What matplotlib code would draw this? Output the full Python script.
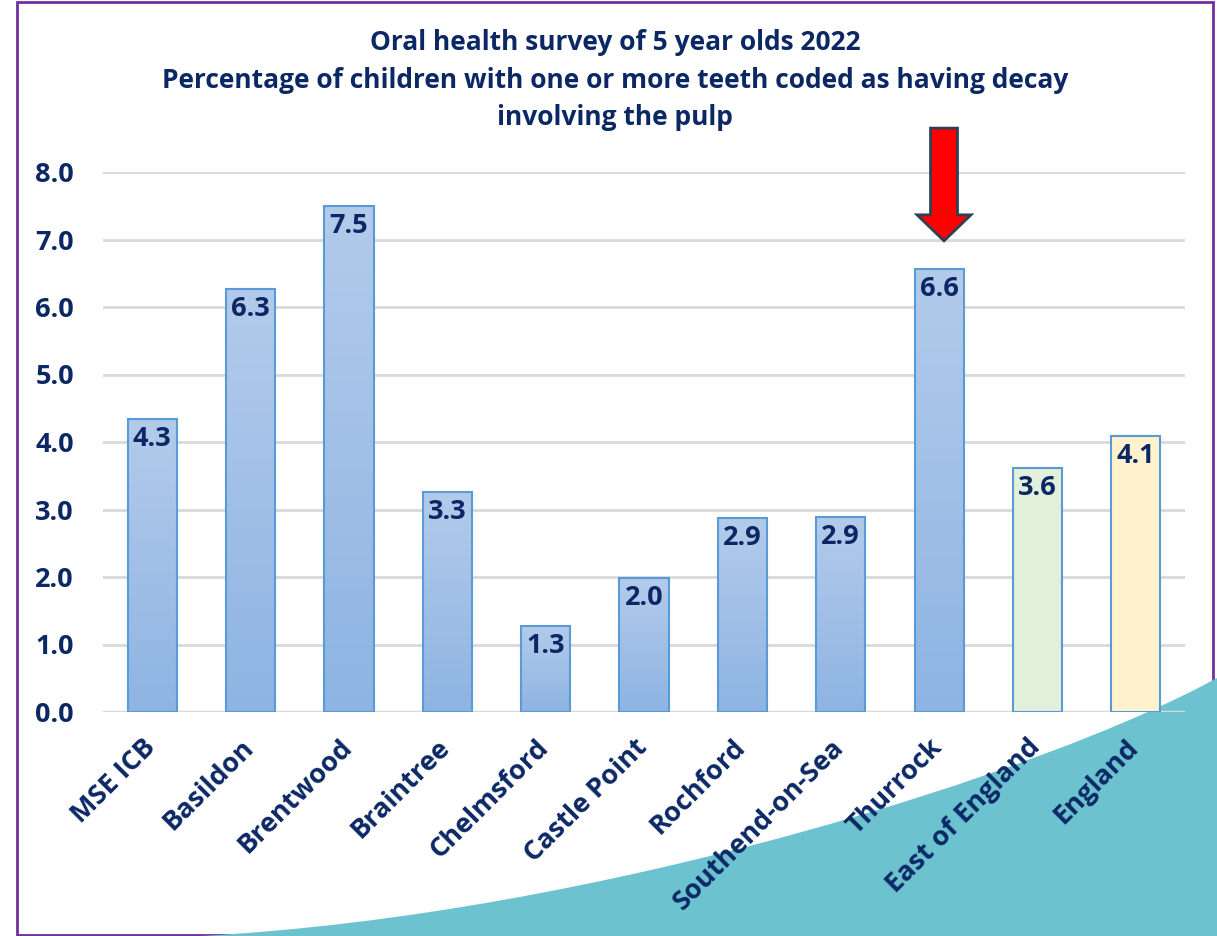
import numpy as np
import matplotlib
matplotlib.use('Agg')
import matplotlib.pyplot as plt
import matplotlib.transforms as mtransforms
from matplotlib.patches import Rectangle, PathPatch, Polygon
from matplotlib.path import Path

plt.rcParams['font.family'] = ['Open Sans', 'DejaVu Sans']

# Survey data (% of 5 year olds with decay involving the pulp)
areas = ['MSE ICB', 'Basildon', 'Brentwood', 'Braintree', 'Chelmsford',
         'Castle Point', 'Rochford', 'Southend-on-Sea', 'Thurrock',
         'East of England', 'England']
pct = [4.34, 6.27, 7.50, 3.26, 1.28, 1.99, 2.88, 2.89, 6.56, 3.61, 4.09]
highlight = 'Thurrock'

navy = '#0B2865'
edge = '#5B9BD5'
grid_col = '#D9D9D9'

W, H = 1217, 936
fig = plt.figure(figsize=(W / 100, H / 100), dpi=100)

# outer frame
fig.patches.append(Rectangle((17 / W, 1 - 935 / H), (1213 - 17) / W, (935 - 2) / H,
                             transform=fig.transFigure, fill=False,
                             edgecolor='#7030A0', linewidth=2, zorder=0))

# teal swoosh in the bottom right corner
def fx(x):
    return x / W

def fy(y):
    return 1 - y / H

verts = [(fx(200), fy(936)), (fx(600), fy(915)), (fx(1050), fy(770)), (fx(1217), fy(678)),
         (fx(1217), fy(936)), (fx(200), fy(936))]
codes = [Path.MOVETO, Path.CURVE4, Path.CURVE4, Path.CURVE4, Path.LINETO, Path.CLOSEPOLY]
fig.patches.append(PathPatch(Path(verts, codes), transform=fig.transFigure,
                             facecolor='#6CC3CF', edgecolor='none', zorder=1))

ax = fig.add_axes([103 / W, 1 - 712 / H, (1185 - 103) / W, (712 - 172) / H])
ax.set_facecolor('none')
ax.set_zorder(2)

x = np.arange(len(areas))
fills = ['#A6C3E8'] * 9 + ['#E2EFDA', '#FFF2CC']
bars = ax.bar(x, pct, width=0.5, color=fills, edgecolor=edge, linewidth=1.5, zorder=3)

# vertical gradient on the local area bars
grad = np.linspace(0, 1, 256).reshape(-1, 1)
cmap = matplotlib.colors.LinearSegmentedColormap.from_list('blu', ['#B3CBEB', '#8EB4E3'])
for b, name in zip(bars, areas):
    if name in ('East of England', 'England'):
        continue
    x0 = b.get_x()
    im = ax.imshow(grad, extent=[x0, x0 + b.get_width(), 0, b.get_height()],
                   origin='lower', cmap=cmap.reversed(), aspect='auto', zorder=3.5)
    im.set_clip_path(b)
    b.set_facecolor('none')
    b.set_zorder(4)

for xi, v in zip(x, pct):
    ax.annotate(f'{v:.1f}', (xi, v), xytext=(0, -5), textcoords='offset points',
                ha='center', va='top', fontsize=19.5, fontweight='bold', color=navy, zorder=5)

ax.set_xlim(-0.5, len(areas) - 0.5)
ax.set_ylim(0, 8)
ax.set_yticks(np.arange(0, 9, 1))
ax.set_yticklabels([f'{t:.1f}' for t in np.arange(0, 9, 1)])
ax.yaxis.grid(True, color=grid_col, linewidth=2)
ax.set_axisbelow(True)
for s in ax.spines.values():
    s.set_visible(False)
ax.axhline(0, color=grid_col, linewidth=2.5, zorder=2)
ax.tick_params(axis='both', length=0, labelsize=19.5, labelcolor=navy)
ax.tick_params(axis='y', pad=21)
for t in ax.get_yticklabels():
    t.set_fontweight('bold')

ax.set_xticks(x)
ax.set_xticklabels(areas, rotation=45, ha='right', va='top', rotation_mode='anchor',
                   fontweight='bold', fontsize=19.5)
ax.tick_params(axis='x', pad=16)
shift = mtransforms.ScaledTranslation(-10 / 100, 0, fig.dpi_scale_trans)
for t in ax.get_xticklabels():
    t.set_transform(t.get_transform() + shift)

# red arrow pointing at the highlighted bar
hi = areas.index(highlight) + 0.05
tip = pct[areas.index(highlight)] + 0.42
arrow = Polygon([(hi - 0.137, 8.65), (hi + 0.137, 8.65), (hi + 0.137, tip + 0.385),
                 (hi + 0.274, tip + 0.385), (hi, tip), (hi - 0.274, tip + 0.385),
                 (hi - 0.137, tip + 0.385)], closed=True, facecolor='#FF0000',
                edgecolor='#2E4053', linewidth=2, clip_on=False, zorder=6)
ax.add_patch(arrow)

fig.text(615 / W, 1 - 29 / H,
         'Oral health survey of 5 year olds 2022\n'
         'Percentage of children with one or more teeth coded as having decay\n'
         'involving the pulp',
         ha='center', va='top', fontsize=19, fontweight='bold', color=navy,
         linespacing=1.5)

fig.savefig('out.png', dpi=100)
